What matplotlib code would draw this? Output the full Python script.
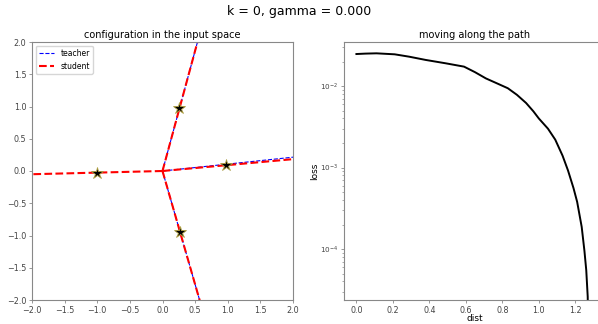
import numpy as np
import matplotlib
matplotlib.use("Agg")
import matplotlib.pyplot as plt

# neuron directions (end points of the stars)
teacher_x = [0.98, 0.26, 0.27]
teacher_y = [0.105, 0.97, -0.95]
student_x = [-1.0, 0.98, 0.26, 0.27]
student_y = [-0.025, 0.09, 0.97, -0.95]

# loss along the path
dist = [0.0, 0.05, 0.11, 0.21, 0.29, 0.38, 0.49, 0.59, 0.65, 0.71, 0.77,
        0.83, 0.88, 0.93, 0.97, 1.0, 1.05, 1.09, 1.13, 1.16, 1.19, 1.21,
        1.235, 1.25, 1.26, 1.268, 1.275]
loss = [0.0247, 0.0250, 0.0252, 0.0245, 0.0229, 0.0209, 0.0190, 0.0173,
        0.0148, 0.0124, 0.0108, 0.0094, 0.0078, 0.0062, 0.0049, 0.0040,
        0.0030, 0.0022, 0.00140, 0.00092, 0.00056, 0.00038, 0.000187,
        0.000095, 0.000055, 0.000026, 0.000001]

plt.rcParams['axes.edgecolor'] = '#888888'
plt.rcParams['xtick.color'] = '#888888'
plt.rcParams['ytick.color'] = '#888888'
plt.rcParams['xtick.labelcolor'] = '#444444'
plt.rcParams['ytick.labelcolor'] = '#444444'
plt.rcParams['xtick.labelsize'] = 5.8
plt.rcParams['ytick.labelsize'] = 5.8

fig = plt.figure(figsize=(5.98, 3.24), dpi=100)
ax1 = fig.add_axes([32/598, 24/324, 261/598, 258/324])
ax2 = fig.add_axes([344/598, 24/324, 275/598, 258/324])

def ray(x, y, L=6.0):
    n = np.hypot(x, y)
    return [0, x/n*L], [0, y/n*L]

for i in range(len(teacher_x)):
    xs, ys = ray(teacher_x[i], teacher_y[i])
    ax1.plot(xs, ys, '--', color='blue', lw=0.8, label='teacher' if i == 0 else None)
for i in range(len(student_x)):
    xs, ys = ray(student_x[i], student_y[i])
    ax1.plot(xs, ys, '--', color='red', lw=1.5, label='student' if i == 0 else None)
ax1.plot(student_x, student_y, '*', color='black', mec='#b0a040', mew=0.6, ms=9)
ax1.set_xlim(-2, 2)
ax1.set_ylim(-2, 2)
ax1.set_title('configuration in the input space', fontsize=7, pad=3)
ax1.legend(loc='upper left', fontsize=5.5)
ax1.tick_params(length=2.5, width=0.6, pad=1.5)

ax2.plot(dist, loss, color='black', lw=1.4)
ax2.set_yscale('log')
ax2.set_ylim(2.37e-5, 3.47e-2)
# axis runs past the right edge of the figure, as in the reference
ax2.set_xlim(-0.068, 1.4395)
ax2.set_xticks([0.0, 0.2, 0.4, 0.6, 0.8, 1.0, 1.2])
ax2.set_title('moving along the path', fontsize=7, pad=3, x=261/275/2)
ax2.set_xlabel('dist', fontsize=6.5, labelpad=1)
ax2.xaxis.set_label_coords(261/275/2, -0.055)
ax2.set_ylabel('loss', fontsize=6.5, labelpad=1)
ax2.tick_params(axis='y', which='major', labelsize=5.2)
ax2.tick_params(length=2.5, width=0.6, pad=1.5)
ax2.tick_params(which='minor', length=1.5, width=0.5)

fig.suptitle('k = 0, gamma = 0.000', fontsize=9, y=0.985)
fig.savefig('out.png', dpi=100)
